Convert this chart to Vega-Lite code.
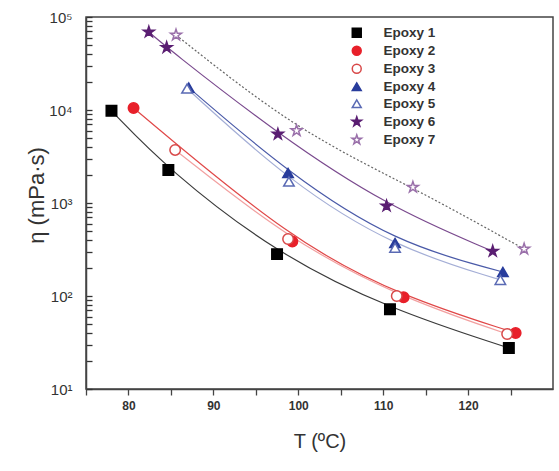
{
  "$schema": "https://vega.github.io/schema/vega-lite/v6.json",
  "autosize": {"type": "none"},
  "padding": {"left": 86, "top": 17, "right": 6, "bottom": 82},
  "width": 467,
  "height": 372,
  "background": "white",
  "config": {
    "view": {"stroke": "#444", "strokeWidth": 1.5},
    "font": "Liberation Sans",
    "axis": {"grid": false, "domainColor": "#444", "domainWidth": 1.5, "tickColor": "#444", "tickWidth": 1.3, "labelColor": "#333", "titleColor": "#333", "labelFont": "Liberation Sans", "titleFont": "Liberation Sans", "titleFontWeight": "normal"}
  },
  "data": {"values": [
    {"series": "Epoxy 1", "T": 78.0, "eta": 9800},
    {"series": "Epoxy 1", "T": 84.7, "eta": 2270},
    {"series": "Epoxy 1", "T": 97.5, "eta": 282},
    {"series": "Epoxy 1", "T": 110.8, "eta": 72},
    {"series": "Epoxy 1", "T": 124.8, "eta": 27.6},
    {"series": "Epoxy 2", "T": 80.6, "eta": 10500},
    {"series": "Epoxy 2", "T": 99.3, "eta": 385},
    {"series": "Epoxy 2", "T": 112.4, "eta": 97},
    {"series": "Epoxy 2", "T": 125.6, "eta": 40},
    {"series": "Epoxy 3", "T": 85.5, "eta": 3720},
    {"series": "Epoxy 3", "T": 98.8, "eta": 410},
    {"series": "Epoxy 3", "T": 111.6, "eta": 100},
    {"series": "Epoxy 3", "T": 124.6, "eta": 39},
    {"series": "Epoxy 4", "T": 87.1, "eta": 17400},
    {"series": "Epoxy 4", "T": 98.8, "eta": 2100},
    {"series": "Epoxy 4", "T": 111.4, "eta": 372},
    {"series": "Epoxy 4", "T": 124.1, "eta": 181},
    {"series": "Epoxy 5", "T": 86.9, "eta": 17000},
    {"series": "Epoxy 5", "T": 98.9, "eta": 1700},
    {"series": "Epoxy 5", "T": 111.4, "eta": 330},
    {"series": "Epoxy 5", "T": 123.8, "eta": 149},
    {"series": "Epoxy 6", "T": 82.4, "eta": 69000},
    {"series": "Epoxy 6", "T": 84.5, "eta": 47000},
    {"series": "Epoxy 6", "T": 97.6, "eta": 5500},
    {"series": "Epoxy 6", "T": 110.4, "eta": 930},
    {"series": "Epoxy 6", "T": 122.9, "eta": 303},
    {"series": "Epoxy 7", "T": 85.6, "eta": 64000},
    {"series": "Epoxy 7", "T": 99.8, "eta": 6000},
    {"series": "Epoxy 7", "T": 113.5, "eta": 1480},
    {"series": "Epoxy 7", "T": 126.6, "eta": 320}
  ]},
  "encoding": {
    "x": {"field": "T", "type": "quantitative", "scale": {"domain": [75, 130], "nice": false, "zero": false},
          "axis": {"values": [75, 80, 85, 90, 95, 100, 105, 110, 115, 120, 125], "tickSize": 6,
                   "labelExpr": "datum.value % 10 == 0 ? datum.label : ''",
                   "labelFontSize": 12, "labelFontWeight": "bold", "labelPadding": 5,
                   "title": "T (ºC)", "titleFontSize": 20, "titlePadding": 20}},
    "y": {"field": "eta", "type": "quantitative", "scale": {"type": "log", "domain": [10, 100000], "nice": false},
          "axis": {"values": [10,20,30,40,50,60,70,80,90,100,200,300,400,500,600,700,800,900,1000,2000,3000,4000,5000,6000,7000,8000,9000,10000,20000,30000,40000,50000,60000,70000,80000,90000,100000],
                   "ticks": true, "zindex": 1, "tickColor": "#333", "tickSize": -6, "labelFontSize": 15, "labelPadding": 20,
                   "labelExpr": "abs(log(datum.value)/LN10 - round(log(datum.value)/LN10)) < 0.001 ? '10' + ['⁰','¹','²','³','⁴','⁵'][round(log(datum.value)/LN10)] : ''",
                   "title": "η (mPa·s)", "titleFontSize": 22, "titleX": -38, "titleY": 178}}
  },
  "layer": [
    {
      "transform": [{"filter": "datum.series != 'Epoxy 7'"}],
      "mark": {"type": "line", "interpolate": "basis", "strokeWidth": 1.2},
      "encoding": {
        "color": {"field": "series", "type": "nominal", "legend": null,
                  "scale": {"domain": ["Epoxy 6", "Epoxy 5", "Epoxy 4", "Epoxy 3", "Epoxy 2", "Epoxy 1"],
                            "range": ["#7a4a8e", "#a4aed6", "#4a5aa8", "#f2a0a0", "#e04848", "#3a3a3a"]}}
      }
    },
    {
      "transform": [{"filter": "datum.series == 'Epoxy 7'"}],
      "mark": {"type": "line", "interpolate": "basis", "strokeWidth": 1.2, "strokeDash": [2, 2], "color": "#666666"},
      "encoding": {}
    },
    {
      "mark": {"type": "point", "size": 110, "strokeWidth": 1.5, "opacity": 1},
      "encoding": {
        "shape": {"field": "series", "type": "nominal",
                  "scale": {"domain": ["Epoxy 1", "Epoxy 2", "Epoxy 3", "Epoxy 4", "Epoxy 5", "Epoxy 6", "Epoxy 7"],
                            "range": ["square", "circle", "circle", "triangle-up", "triangle-up",
                                      "M0,-1.1L0.25,-0.34L1.05,-0.34L0.4,0.13L0.65,0.89L0,0.42L-0.65,0.89L-0.4,0.13L-1.05,-0.34L-0.25,-0.34Z",
                                      "M0,-1.1L0.25,-0.34L1.05,-0.34L0.4,0.13L0.65,0.89L0,0.42L-0.65,0.89L-0.4,0.13L-1.05,-0.34L-0.25,-0.34Z"]},
                  "legend": {"orient": "none", "legendX": 264, "legendY": 9, "title": null, "padding": 0,
                             "symbolSize": 80, "symbolStrokeWidth": 1.5, "labelFontSize": 13.5, "labelFontWeight": "bold", "labelColor": "#333", "labelFont": "Liberation Sans",
                             "labelOffset": 20, "rowPadding": 2}},
        "fill": {"field": "series", "type": "nominal",
                 "scale": {"domain": ["Epoxy 1", "Epoxy 2", "Epoxy 3", "Epoxy 4", "Epoxy 5", "Epoxy 6", "Epoxy 7"],
                           "range": ["#000000", "#e8202a", "#ffffff", "#283c9c", "#ffffff", "#5a1e72", "#ffffff"]}},
        "stroke": {"field": "series", "type": "nominal",
                   "scale": {"domain": ["Epoxy 1", "Epoxy 2", "Epoxy 3", "Epoxy 4", "Epoxy 5", "Epoxy 6", "Epoxy 7"],
                             "range": ["#000000", "#e8202a", "#d84848", "#283c9c", "#5a6ab4", "#5a1e72", "#9a70aa"]}}
      }
    }
  ]
}
